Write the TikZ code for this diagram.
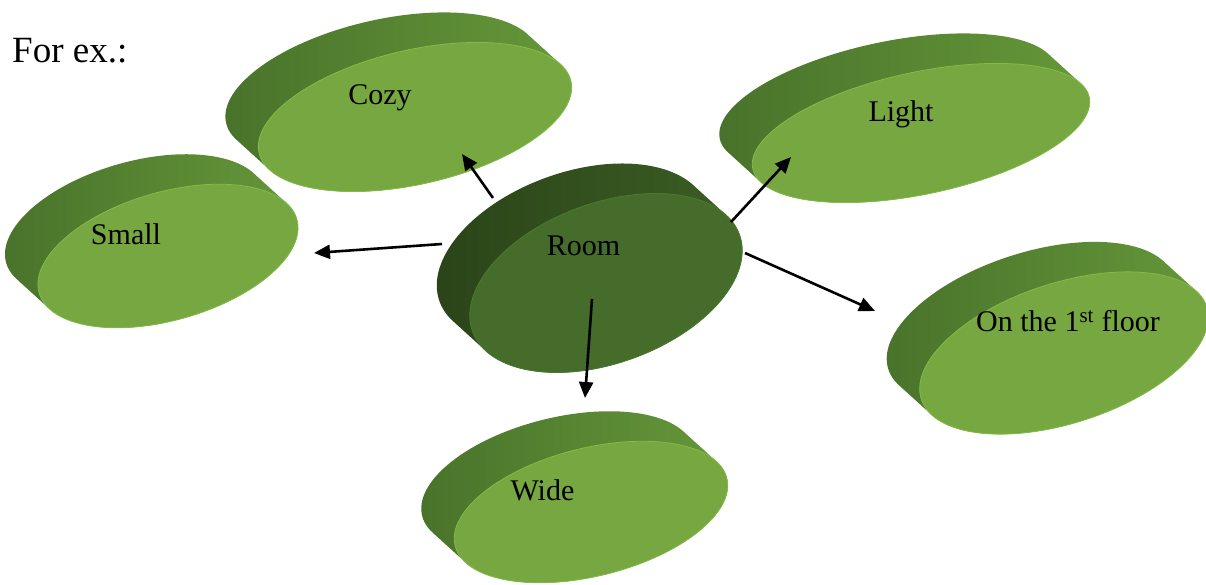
\documentclass[tikz,border=0pt]{standalone}
\usepackage{fontspec}
\setmainfont{Liberation Serif}
\usetikzlibrary{arrows.meta,calc}
\definecolor{lfront}{HTML}{76A740}
\definecolor{lsideA}{HTML}{48722A}
\definecolor{lsideB}{HTML}{66983A}
\definecolor{lrim}{HTML}{84BA4A}
\definecolor{rfront}{HTML}{456C2B}
\definecolor{rsideA}{HTML}{2A4318}
\definecolor{rsideB}{HTML}{3C5F24}
\definecolor{rrim}{HTML}{4E7831}
% #1 cx, #2 cy, #3 a, #4 b, #5 rotation, #6 colour prefix
\newcommand{\mydisk}[6]{%
  \shade[left color=#6sideA, right color=#6sideB]
    \foreach \k in {0,1,...,33}{({#1-\k},{#2-0.909*\k}) ellipse[x radius=#3pt, y radius=#4pt, rotate=#5]};
  \fill[#6front, draw=#6rim, line width=0.8pt] (#1,#2) ellipse[x radius=#3pt, y radius=#4pt, rotate=#5];
}
\begin{document}
\begin{tikzpicture}[x=1pt,y=-1pt,
  arr/.style={-{Triangle[length=16pt,width=14pt]}, line width=2.6pt, black},
  lbl/.style={anchor=base, font=\fontsize{30}{36}\selectfont, inner sep=0pt}]
\useasboundingbox (0,0) rectangle (1206,585);
% disks
\mydisk{168}{256}{134}{64}{16}{l}
\mydisk{415}{117}{160}{67}{13}{l}
\mydisk{921}{133}{172}{61}{12}{l}
\mydisk{591}{512}{140}{64}{14}{l}
\mydisk{1064}{353}{150}{70}{18}{l}
\mydisk{606}{283}{142}{80}{20}{r}
% labels
\node[anchor=base west, font=\fontsize{37}{44}\selectfont, inner sep=0pt] (forex) at (12,63) {For ex.:};
\node[lbl] (room) at (583.5,255) {Room};
\node[lbl] (cozy) at (380,104.3) {Cozy};
\node[lbl] (light) at (901,121.7) {Light};
\node[lbl] (small) at (126,244.3) {Small};
\node[lbl] (wide) at (542.5,500) {Wide};
\node[lbl] (floor) at (1068,331.7) {On the 1\textsuperscript{st} floor};
% arrow end points
\coordinate (rA) at (493,198);
\coordinate (cozyT) at (462,154);
\coordinate (rB) at (442,244);
\coordinate (smallT) at (314,253);
\coordinate (rC) at (731,222);
\coordinate (lightT) at (791,157);
\coordinate (rD) at (745,253);
\coordinate (floorT) at (875,311);
\coordinate (rE) at (592,299);
\coordinate (wideT) at (585,398);
\draw[arr] (rA) -- (cozyT);
\draw[arr] (rB) -- (smallT);
\draw[arr] (rC) -- (lightT);
\draw[arr] (rD) -- (floorT);
\draw[arr] (rE) -- (wideT);
\end{tikzpicture}
\end{document}
